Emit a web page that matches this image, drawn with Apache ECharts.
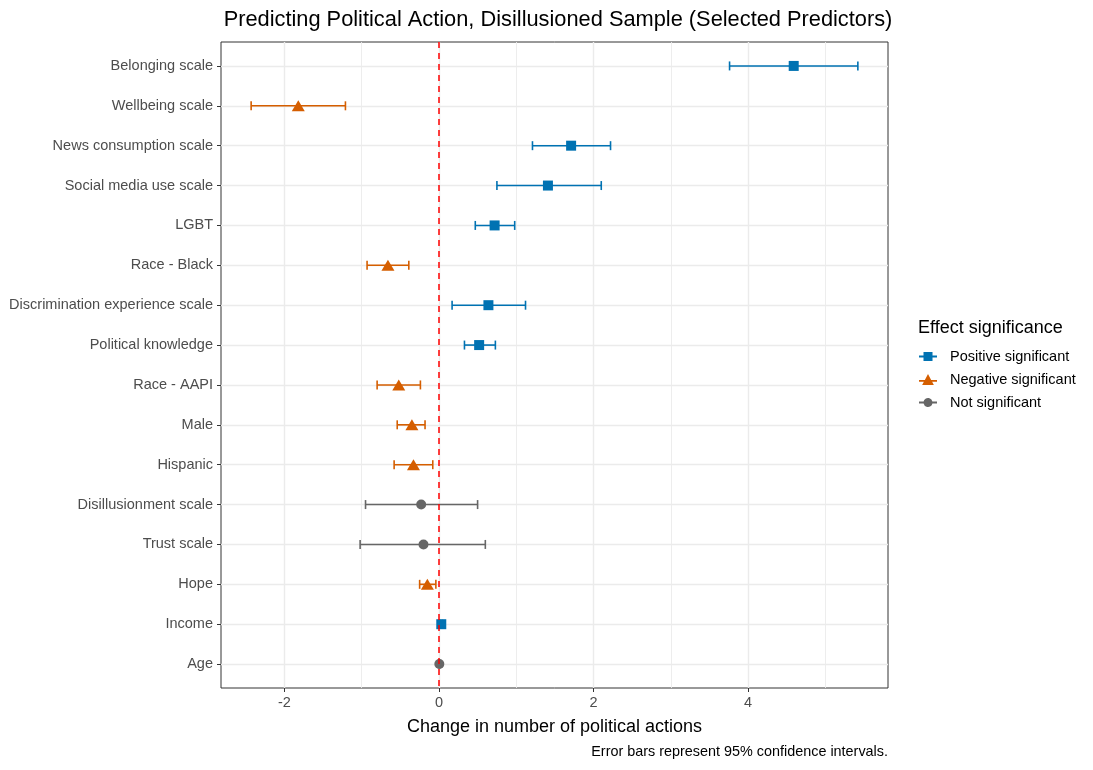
<!DOCTYPE html>
<html>
<head>
<meta charset="utf-8">
<script src="https://cdn.jsdelivr.net/npm/echarts@6/dist/echarts.min.js"></script>
<style>
  html, body { margin: 0; padding: 0; background: #fff; }
  #container { width: 1093px; height: 770px; }
</style>
</head>
<body>
<div id="container"></div>
<script>
var dom = document.getElementById("container");
var myChart = echarts.init(dom);

// predictors, top to bottom
var predictors = ['Belonging scale', 'Wellbeing scale', 'News consumption scale', 'Social media use scale',
    'LGBT', 'Race - Black', 'Discrimination experience scale', 'Political knowledge', 'Race - AAPI',
    'Male', 'Hispanic', 'Disillusionment scale', 'Trust scale', 'Hope', 'Income', 'Age'];
var estimates = [4.59, -1.82, 1.71, 1.41, 0.72, -0.66, 0.64, 0.52, -0.52, -0.35, -0.33, -0.23, -0.20, -0.15, 0.03, 0.005];
var lower =     [3.76, -2.43, 1.21, 0.75, 0.47, -0.93, 0.17, 0.33, -0.80, -0.54, -0.58, -0.95, -1.02, -0.25, 0.015, -0.005];
var upper =     [5.42, -1.21, 2.22, 2.10, 0.98, -0.39, 1.12, 0.73, -0.24, -0.18, -0.08, 0.50, 0.60, -0.04, 0.045, 0.015];
var significance = ['pos', 'neg', 'pos', 'pos', 'pos', 'neg', 'pos', 'pos', 'neg',
    'neg', 'neg', 'ns', 'ns', 'neg', 'pos', 'ns'];
var xTicks = [-2, 0, 2, 4];

var groups = [
    { key: 'pos', name: 'Positive significant', color: '#0072B2', symbol: 'rect', size: 10,
      icon: 'path://M0,9H5V5H15V9H20V11H15V15H5V11H0Z' },
    { key: 'neg', name: 'Negative significant', color: '#D55E00', symbol: 'triangle', size: 12,
      icon: 'path://M0,9H6.5L10,2.5L13.5,9H20V11H14.6L16.5,14.5H3.5L5.4,11H0Z' },
    { key: 'ns', name: 'Not significant', color: '#666666', symbol: 'circle', size: 10,
      icon: 'path://M0,9H5.1A5,5 0 0 1 14.9,9H20V11H14.9A5,5 0 0 1 5.1,11H0Z' }
];

var font = 'Liberation Sans, Arial, sans-serif';
var series = [];

groups.forEach(function (g, gi) {
    var bars = [], pts = [];
    predictors.forEach(function (p, i) {
        if (significance[i] !== g.key) return;
        bars.push([lower[i], upper[i], i]);
        pts.push([estimates[i], i]);
    });
    // error bars
    series.push({
        type: 'custom',
        name: g.name,
        z: 3,
        renderItem: function (params, api) {
            var a = api.coord([api.value(0), api.value(2)]);
            var b = api.coord([api.value(1), api.value(2)]);
            var h = 4.5;
            var st = { stroke: g.color, lineWidth: 1.6 };
            return {
                type: 'group',
                children: [
                    { type: 'line', shape: { x1: a[0], y1: a[1], x2: b[0], y2: b[1] }, style: st },
                    { type: 'line', shape: { x1: a[0], y1: a[1] - h, x2: a[0], y2: a[1] + h }, style: st },
                    { type: 'line', shape: { x1: b[0], y1: b[1] - h, x2: b[0], y2: b[1] + h }, style: st }
                ]
            };
        },
        encode: { x: [0, 1], y: 2 },
        data: bars,
        silent: true
    });
    series.push({
        type: 'scatter',
        name: g.name,
        z: 4,
        symbol: g.symbol,
        symbolSize: g.symbol === 'triangle' ? [13, 11] : g.size,
        itemStyle: { color: g.color, opacity: 1 },
        data: pts,
        markLine: gi === 0 ? {
            silent: true,
            symbol: 'none',
            label: { show: false },
            lineStyle: { color: '#ff0000', type: [6, 5], width: 1.5 },
            data: [{ xAxis: 0 }]
        } : undefined
    });
});

option = {
    backgroundColor: '#ffffff',
    animation: false,
    textStyle: { fontFamily: font },
    title: {
        text: 'Predicting Political Action, Disillusioned Sample (Selected Predictors)',
        left: 553,
        textAlign: 'center',
        top: 4,
        textStyle: { fontSize: 21.8, fontWeight: 'normal', color: '#000', fontFamily: font }
    },
    grid: {
        left: 221, right: 205, top: 42, bottom: 82,
        show: true, borderColor: '#333333', borderWidth: 1, backgroundColor: '#fff'
    },
    legend: {
        orient: 'vertical',
        left: 919,
        top: 349,
        padding: 0,
        itemWidth: 18,
        itemHeight: 18,
        itemGap: 8,
        textStyle: { fontSize: 14.5, color: '#000', fontFamily: font, padding: [0, 0, 0, 8] },
        data: groups.map(function (g) {
            return { name: g.name, icon: g.icon, itemStyle: { color: g.color } };
        })
    },
    graphic: [
        { type: 'text', left: 918, top: 319, style: { text: 'Effect significance', fontSize: 18, fill: '#000', fontFamily: font } },
        { type: 'text', right: 205, top: 745, style: { text: 'Error bars represent 95% confidence intervals.', fontSize: 14.4, fill: '#000', fontFamily: font } }
    ],
    xAxis: {
        type: 'value',
        min: -2.82,
        max: 5.81,
        name: 'Change in number of political actions',
        nameLocation: 'middle',
        nameGap: 30,
        nameTextStyle: { fontSize: 18, color: '#000', fontFamily: font },
        axisLine: { show: false, onZero: false },
        axisTick: { show: true, customValues: xTicks, length: 4, lineStyle: { color: '#333' } },
        axisLabel: { customValues: xTicks, fontSize: 14.5, color: '#4d4d4d', margin: 7 },
        splitLine: { show: true, lineStyle: { color: '#ebebeb', width: 1.4 } },
        minorTick: { show: false, splitNumber: 2 },
        minorSplitLine: { show: true, lineStyle: { color: '#ebebeb', width: 0.9 } }
    },
    yAxis: {
        type: 'value',
        min: -0.6,
        max: 15.6,
        inverse: true,
        axisLine: { show: false, onZero: false },
        axisTick: { show: true, customValues: predictors.map(function (p, i) { return i; }), length: 4, lineStyle: { color: '#333' } },
        axisLabel: {
            customValues: predictors.map(function (p, i) { return i; }),
            formatter: function (v) { return predictors[Math.round(v)]; },
            fontSize: 14.5, color: '#4d4d4d', margin: 8
        },
        splitLine: { show: true, lineStyle: { color: '#ebebeb', width: 1.4 } }
    },
    series: series
};

myChart.setOption(option, true);
</script>
</body>
</html>
